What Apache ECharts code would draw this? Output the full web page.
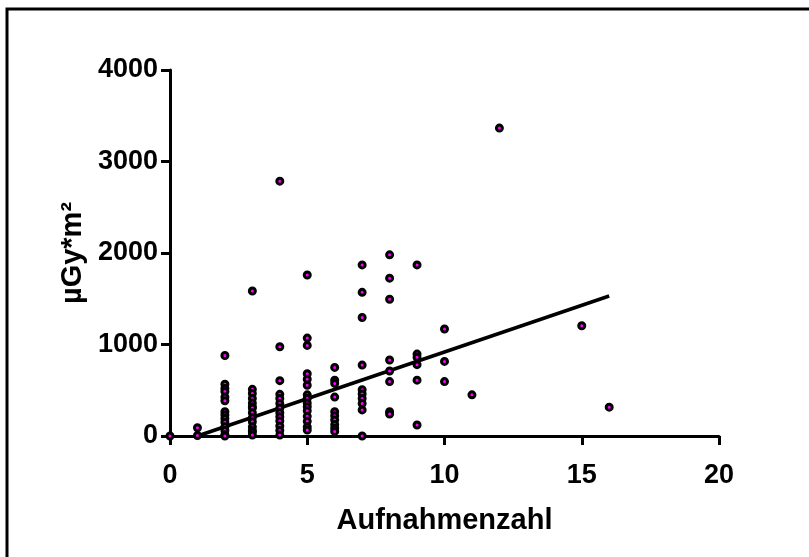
<!DOCTYPE html>
<html>
<head>
<meta charset="utf-8">
<script src="https://cdn.jsdelivr.net/npm/echarts@6/dist/echarts.min.js"></script>
<style>
  html, body { margin: 0; padding: 0; background: #fff; }
  #main { width: 809px; height: 557px; }
</style>
</head>
<body>
<div id="main"></div>
<script>
// Aufnahmenzahl -> gemessene Dosiswerte (µGy*m²)
const counts = [0, 1, 2, 3, 4, 5, 6, 7, 8, 9, 10, 11, 12, 15, 16]
const doses = [
    [0],
    [90, 5],
    [880, 565, 520, 485, 425, 385, 265, 230, 190, 150, 100, 60, 15, 0],
    [1585, 510, 465, 410, 360, 320, 305, 255, 200, 155, 100, 60, 45, 10],
    [2785, 975, 605, 455, 410, 355, 305, 255, 210, 165, 110, 60, 10],
    [1760, 1070, 990, 680, 620, 555, 450, 410, 360, 320, 275, 215, 160, 100, 65],
    [750, 610, 575, 425, 265, 220, 175, 125, 85, 50],
    [1870, 1570, 1295, 775, 505, 460, 410, 355, 285, 0],
    [1980, 1725, 1495, 830, 710, 595, 265, 240],
    [1870, 895, 860, 780, 610, 120],
    [1170, 815, 595],
    [450],
    [3365],
    [1205],
    [315]
]

// Regressionsgerade
const fitX = [1, 16]
const fitY = [0, 1530]

const xTicks = [0, 5, 10, 15, 20]
const yTicks = [0, 1000, 2000, 3000, 4000]

const points = []
counts.forEach((c, i) => {
    doses[i].forEach(d => points.push([c, d]))
})

const chart = echarts.init(document.getElementById('main'))

const labelFont = {
    color: '#000',
    fontFamily: 'Liberation Sans, Arial, sans-serif',
    fontWeight: 'bold',
    fontSize: 27
}

chart.setOption({
    animation: false,
    backgroundColor: '#fff',
    graphic: [{
        type: 'rect',
        shape: { x: 7, y: 9, width: 900, height: 700 },
        style: { fill: 'none', stroke: '#000', lineWidth: 3 }
    }],
    grid: { left: 170, right: 90, top: 70, bottom: 121 },
    xAxis: {
        type: 'value',
        min: xTicks[0],
        max: xTicks[xTicks.length - 1],
        interval: 5,
        name: 'Aufnahmenzahl',
        nameLocation: 'middle',
        nameGap: 70,
        nameTextStyle: Object.assign({}, labelFont, { fontSize: 29 }),
        axisLine: { lineStyle: { color: '#000', width: 3 } },
        axisTick: { length: 9, lineStyle: { color: '#000', width: 3 } },
        axisLabel: Object.assign({ margin: 26 }, labelFont),
        splitLine: { show: false }
    },
    yAxis: {
        type: 'value',
        min: yTicks[0],
        max: yTicks[yTicks.length - 1],
        interval: 1000,
        name: 'µGy*m²',
        nameLocation: 'middle',
        nameGap: 76,
        nameTextStyle: Object.assign({}, labelFont, { fontSize: 29 }),
        axisLine: { show: true, lineStyle: { color: '#000', width: 3 } },
        axisTick: { show: true, length: 9, lineStyle: { color: '#000', width: 3 } },
        axisLabel: Object.assign({ margin: 12, formatter: v => String(v) }, labelFont),
        splitLine: { show: false }
    },
    series: [{
        type: 'line',
        data: fitX.map((x, i) => [x, fitY[i]]),
        symbol: 'none',
        lineStyle: { color: '#000', width: 3.5 },
        z: 3
    }, {
        type: 'scatter',
        data: points,
        symbol: 'circle',
        symbolSize: 6,
        itemStyle: { color: '#ff00ff', borderColor: '#000', borderWidth: 3, opacity: 1 },
        z: 4
    }]
})
</script>
</body>
</html>
